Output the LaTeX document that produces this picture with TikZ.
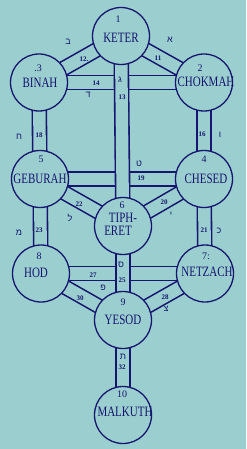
\documentclass[tikz,border=0pt]{standalone}
\usepackage{fontspec}
\usepackage{graphicx}
\setmainfont{Liberation Serif}
\newfontfamily\hebfont[Script=Hebrew]{Liberation Sans}
\definecolor{bgc}{RGB}{155,206,206}
\definecolor{ink}{RGB}{22,22,112}
\pgfdeclarelayer{back}
\pgfdeclarelayer{paths}
\pgfsetlayers{back,paths,main}
\newcommand\talltext[1]{\scalebox{1}[1.3]{#1}}
\begin{document}
\begin{tikzpicture}[x=1pt,y=-1pt,
  sef/.style={circle, draw=ink, fill=bgc, line width=1.3pt, minimum size=57pt, inner sep=0pt},
  sefpath/.style={draw=ink, line width=1.6pt, double=bgc, double distance=12.4pt},
  nm/.style={text=ink, inner sep=0pt, font=\fontsize{11}{11}\selectfont},
  num/.style={text=ink, inner sep=0pt, font=\fontsize{10}{10}\selectfont},
  pn/.style={text=ink, inner sep=0pt, font=\fontsize{7}{7}\selectfont\bfseries},
  heb/.style={text=ink, inner sep=0pt, font=\hebfont\fontsize{9}{9}\selectfont},
]
\useasboundingbox (0,0) rectangle (246,449);
\begin{pgfonlayer}{back}
  \fill[bgc] (0,0) rectangle (246,449);
\end{pgfonlayer}

% Sefirot
\node[sef] (K)  at (121,36)  {};
\node[sef] (B)  at (39,82.5) {};
\node[sef] (C)  at (204,82.5) {};
\node[sef] (G)  at (40,179)  {};
\node[sef] (Ch) at (204,179) {};
\node[sef] (T)  at (123,226) {};
\node[sef] (H)  at (41,273.5) {};
\node[sef] (N)  at (205,273.5) {};
\node[sef] (Y)  at (123,320) {};
\node[sef] (M)  at (123,415) {};

\begin{pgfonlayer}{paths}
  % horizontal
  \draw[sefpath] (B.center) -- (C.center);
  \draw[sefpath] (G.center) -- (Ch.center);
  \draw[sefpath] (H.center) -- (N.center);
  % diagonal
  \draw[sefpath] (K.center) -- (B.center);
  \draw[sefpath] (K.center) -- (C.center);
  \draw[sefpath] (G.center) -- (T.center);
  \draw[sefpath] (Ch.center) -- (T.center);
  \draw[sefpath] (H.center) -- (Y.center);
  \draw[sefpath] (N.center) -- (Y.center);
  % vertical
  \draw[sefpath] (K.center) -- (T.center);
  \draw[sefpath] (T.center) -- (Y.center);
  \draw[sefpath] (B.center) -- (G.center);
  \draw[sefpath] (C.center) -- (Ch.center);
  \draw[sefpath] (G.center) -- (H.center);
  \draw[sefpath] (Ch.center) -- (N.center);
  \draw[sefpath] (Y.center) -- (M.center);
\end{pgfonlayer}

% Sefirot texts
\node[num] (n1) at (118,19) {1};
\node[nm] (tK) at (121,38) {\talltext{KETER}};
\node[num] (n3) at (38,68) {.3};
\node[nm] (tB) at (40,83) {\talltext{BINAH}};
\node[num] (n2) at (200,68) {2};
\node[nm] (tC) at (206,82) {\talltext{CHOKMAH}};
\node[num] (n5) at (41,159) {5};
\node[nm] (tG) at (40,179) {\talltext{GEBURAH}};
\node[num] (n4) at (204,159) {4};
\node[nm] (tCh) at (206,179) {\talltext{CHESED}};
\node[num] (n6) at (122,205.5) {6};
\node[nm] (tT1) at (123,217.5) {\talltext{TIPH-}};
\node[nm] (tT2) at (118,230.5) {\talltext{ERET}};
\node[num] (n8) at (39,256) {8};
\node[nm] (tH) at (36,273) {\talltext{HOD}};
\node[num] (n7) at (206,256) {7:};
\node[nm] (tN) at (207,272) {\talltext{NETZACH}};
\node[num] (n9) at (123,302) {9};
\node[nm] (tY) at (123,320) {\talltext{YESOD}};
\node[num] (n10) at (122,394) {10};
\node[nm] (tM) at (125,412) {\talltext{MALKUTH}};

% Path labels
\node[pn] (p12) at (84,59) {12.};
\node[heb] (h12) at (68,42) {ב};
\node[pn] (p11) at (158,58) {11};
\node[heb] (h11) at (170,40) {א};
\node[pn] (p14) at (96,83) {14};
\node[heb] (h14) at (88,95) {ד};
\node[heb] (h13) at (120,80) {ג};
\node[pn] (p13) at (122,97) {13};
\node[pn] (p18) at (39,135) {18};
\node[heb] (h18) at (19,137) {ח};
\node[pn] (p16) at (202,134) {16};
\node[heb] (h16) at (220,135) {ו};
\node[heb] (h19) at (139,164) {ט};
\node[pn] (p19) at (141,178) {19};
\node[pn] (p22) at (79,204) {22};
\node[heb] (h22) at (70,218) {ל};
\node[pn] (p20) at (164,202) {20};
\node[heb] (h20) at (171,215) {י};
\node[pn] (p23) at (39,230) {23};
\node[heb] (h23) at (19,233) {מ};
\node[pn] (p21) at (204,230) {21};
\node[heb] (h21) at (219,231) {כ};
\node[heb] (h25) at (121,265) {ס};
\node[pn] (p25) at (122,280) {25};
\node[pn] (p27) at (93,275) {27};
\node[heb] (h27) at (103,288) {פ};
\node[pn] (p30) at (80,298) {30};
\node[pn] (p28) at (165,297) {28};
\node[heb] (h28) at (166,309) {צ};
\node[heb] (h32) at (123,357) {ת};
\node[pn] (p32) at (122,367) {32};
\end{tikzpicture}
\end{document}
